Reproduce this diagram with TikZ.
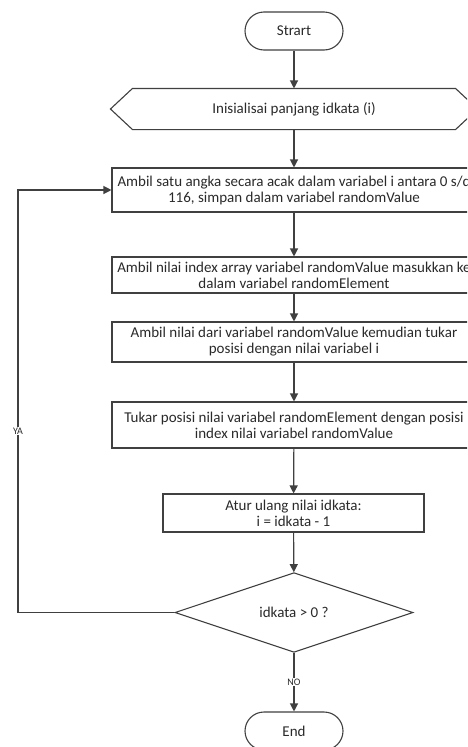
\documentclass[tikz,border=0pt]{standalone}
\usepackage{fontspec}
\setmainfont{Carlito}
\usetikzlibrary{arrows.meta,shapes.geometric}
\definecolor{ln}{HTML}{404040}
\definecolor{tx}{HTML}{2A2A2A}
\tikzset{
  base/.style={draw=ln, line width=1.1pt, text=tx, font=\fontsize{15}{16}\selectfont, align=center, inner sep=0pt},
  term/.style={base, rectangle, rounded corners=19pt, minimum width=98pt, minimum height=38pt},
  proc/.style={base, rectangle, minimum width=364pt},
  hexa/.style={base, draw=none, rectangle, minimum width=366pt, minimum height=40pt},
  dec/.style={base, diamond, minimum width=238pt, minimum height=71pt},
  conn/.style={draw=ln, line width=1.2pt, -{Triangle[length=8pt,width=8pt]}},
  lbl/.style={font=\fontsize{10}{11}\selectfont, text=tx, fill=white, inner sep=1pt}
}
\begin{document}
\begin{tikzpicture}[x=1pt,y=-1pt]
\useasboundingbox (0,0) rectangle (467,747);
\clip (0,0) rectangle (467,747);
\fill[white] (0,0) rectangle (467,747);
\node[term] (start) at (294,31) {Strart};
\node[hexa] (hex) at (294,109) {Inisialisai panjang idkata (i)};
\draw[draw=ln, line width=1.1pt] (hex.west) -- ([xshift=22pt]hex.north west) -- ([xshift=-22pt]hex.north east) -- (hex.east) -- ([xshift=-22pt]hex.south east) -- ([xshift=22pt]hex.south west) -- cycle;
\node[proc, minimum height=44pt] (b1) at (294,190) {Ambil satu angka secara acak dalam variabel i antara 0 s/d\\116, simpan dalam variabel randomValue};
\node[proc, minimum height=36pt] (b2) at (294,275) {Ambil nilai index array variabel randomValue masukkan ke\\dalam variabel randomElement};
\node[proc, minimum height=40pt] (b3) at (294,342) {Ambil nilai dari variabel randomValue kemudian tukar\\posisi dengan nilai variabel i};
\node[proc, minimum height=46pt] (b4) at (294,425) {Tukar posisi nilai variabel randomElement dengan posisi\\index nilai variabel randomValue};
\node[proc, minimum width=261pt, minimum height=38pt] (b5) at (293.5,513) {Atur ulang nilai idkata:\\i = idkata - 1};
\node[dec] (d) at (294,612.5) {idkata > 0 ?};
\node[term] (end) at (294,731) {End};
\coordinate (c1) at (18,612.5);
\coordinate (c2) at (18,190);
\draw[conn] (start) -- (hex);
\draw[conn] (hex) -- (b1);
\draw[conn] (b1) -- (b2);
\draw[conn] (b2) -- (b3);
\draw[conn] (b3) -- (b4);
\draw[conn] (b4) -- (b5);
\draw[conn] (b5) -- (d);
\draw[conn] (d) -- node[lbl, pos=0.5] (no) {NO} (end);
\draw[conn] (d.west) -- (c1) -- node[lbl, pos=0.43] (ya) {YA} (c2) -- (b1.west);
\end{tikzpicture}
\end{document}
